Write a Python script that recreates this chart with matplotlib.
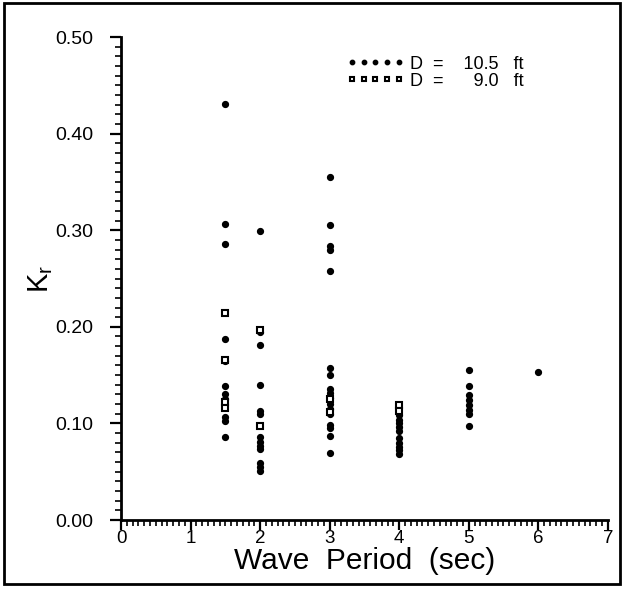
import numpy as np
import matplotlib
matplotlib.use('Agg')
import matplotlib.pyplot as plt
from matplotlib.ticker import MultipleLocator, FixedLocator
from matplotlib.patches import Rectangle

plt.rcParams['font.family'] = ['Liberation Sans', 'DejaVu Sans']
plt.rcParams['mathtext.fontset'] = 'custom'
plt.rcParams['mathtext.rm'] = 'Liberation Sans'
plt.rcParams['mathtext.it'] = 'Liberation Sans'

# Reflection coefficient Kr, by wave period (sec)
# D = 10.5 ft (dots)
kr_105_t15 = [0.431, 0.306, 0.286, 0.187, 0.165, 0.139, 0.130, 0.125, 0.107, 0.103, 0.086]
kr_105_t2 = [0.299, 0.195, 0.181, 0.140, 0.113, 0.110, 0.086, 0.081, 0.077, 0.074, 0.059, 0.055, 0.051]
kr_105_t3 = [0.355, 0.305, 0.284, 0.280, 0.258, 0.157, 0.150, 0.136, 0.131, 0.126, 0.120,
             0.115, 0.110, 0.098, 0.095, 0.087, 0.069]
kr_105_t4 = [0.109, 0.104, 0.100, 0.096, 0.092, 0.085, 0.080, 0.076, 0.072, 0.068]
kr_105_t5 = [0.155, 0.139, 0.129, 0.124, 0.119, 0.114, 0.110, 0.097]
kr_105_t6 = [0.153]
# D = 9.0 ft (open squares)
kr_90_t15 = [0.214, 0.166, 0.122, 0.116]
kr_90_t2 = [0.197, 0.097]
kr_90_t3 = [0.125, 0.112]
kr_90_t4 = [0.119, 0.113]

periods_105 = [1.5, 2, 3, 4, 5, 6]
groups_105 = [kr_105_t15, kr_105_t2, kr_105_t3, kr_105_t4, kr_105_t5, kr_105_t6]
periods_90 = [1.5, 2, 3, 4]
groups_90 = [kr_90_t15, kr_90_t2, kr_90_t3, kr_90_t4]

x_ticks = [0, 1, 2, 3, 4, 5, 6, 7]
y_ticks = [0.0, 0.1, 0.2, 0.3, 0.4, 0.5]
y_ticklabels = ['0.00', '0.10', '0.20', '0.30', '0.40', '0.50']

x105 = np.concatenate([np.full(len(g), t) for t, g in zip(periods_105, groups_105)])
y105 = np.concatenate(groups_105)
x90 = np.concatenate([np.full(len(g), t) for t, g in zip(periods_90, groups_90)])
y90 = np.concatenate(groups_90)

fig = plt.figure(figsize=(6.24, 5.90), dpi=100)
ax = fig.add_axes([0.194, 0.1186, 0.780, 0.8186])

ax.plot(x105, y105, linestyle='none', marker='o', markersize=4.2,
        color='black', label='D  =    10.5   ft')
ax.plot(x90, y90, linestyle='none', marker='s', markersize=4.4,
        markerfacecolor='white', markeredgecolor='black', markeredgewidth=1.5,
        label='D  =      9.0   ft')

ax.set_xlim(0, 7)
ax.set_ylim(0, 0.5)
ax.xaxis.set_major_locator(FixedLocator(x_ticks))
ax.xaxis.set_minor_locator(MultipleLocator(1 / 12))
ax.yaxis.set_major_locator(FixedLocator(y_ticks))
ax.yaxis.set_minor_locator(MultipleLocator(0.01))
ax.set_xticklabels([str(t) for t in x_ticks])
ax.set_yticklabels(y_ticklabels)

for side in ['top', 'right']:
    ax.spines[side].set_visible(False)
for side in ['left', 'bottom']:
    ax.spines[side].set_linewidth(2)

ax.tick_params(axis='x', which='major', direction='out', length=7, width=1.6,
               labelsize=13.5, pad=0)
ax.tick_params(axis='x', which='minor', direction='out', length=4, width=1.2)
ax.tick_params(axis='y', which='major', direction='out', length=8, width=1.6,
               labelsize=14, pad=12)
ax.tick_params(axis='y', which='minor', direction='out', length=4, width=1.2)

ax.set_xlabel('Wave  Period  (sec)', fontsize=21.5, labelpad=0)
ax.set_ylabel('K$_r$', fontsize=21, labelpad=0)

ax.legend(loc='upper left', bbox_to_anchor=(0.43, 0.995), frameon=False,
          numpoints=5, handlelength=3.2, handletextpad=0.3, labelspacing=0.0,
          fontsize=13, markerscale=0.75)

# outer frame round the figure
fig.patches.append(Rectangle((0.006, 0.01), 0.988, 0.985, transform=fig.transFigure,
                             fill=False, edgecolor='black', linewidth=2))

fig.savefig('out.png', dpi=100)
